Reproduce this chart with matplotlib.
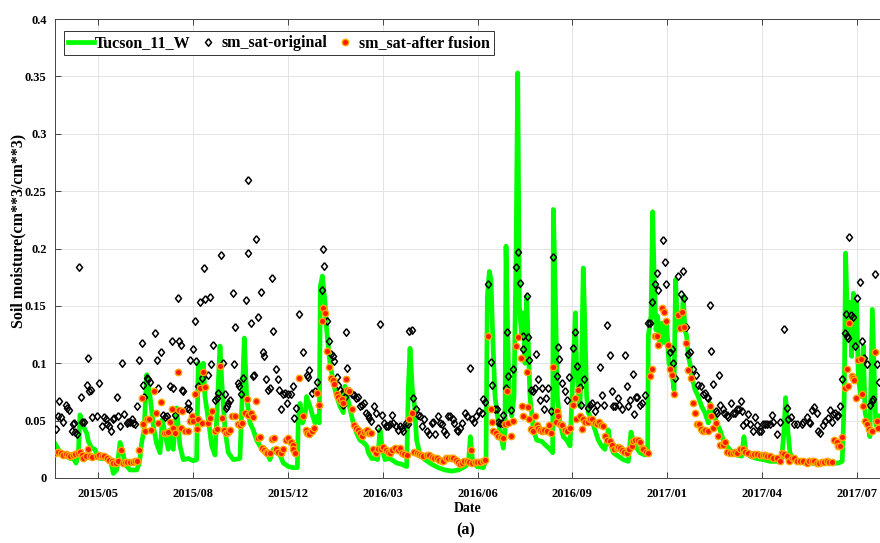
import numpy as np
import matplotlib
matplotlib.use('Agg')
import matplotlib.pyplot as plt
import matplotlib.dates as mdates
from datetime import date

# ---------------- data ----------------
START = date(2015, 4, 5)          # day 0 of the record
END_DAY = 861
tick_dates = ['2015-05-20', '2015-08-27', '2015-12-04', '2016-03-12', '2016-06-19',
              '2016-09-26', '2017-01-03', '2017-04-12', '2017-07-20']
tick_labels = ['2015/05', '2015/08', '2015/12', '2016/03', '2016/06',
               '2016/09', '2017/01', '2017/04', '2017/07']

# in-situ station (days since START, soil moisture)
insitu_day = [0, 3.5, 7, 12.2, 15.7, 19.2, 22, 24.4, 26.1, 29.6, 33.1, 34.8, 38.3, 41.8, 43.5, 47, 52.2, 57.4,
              60.9, 64.4, 67.9, 70.7, 73.1, 78.3, 85.3, 88, 90.5, 93, 95.7, 97.8, 99.2, 102.7, 106, 109.6, 112,
              114.7, 118.2, 120, 123.4, 126.9, 130.4, 133.9, 139.1, 144.3, 147.8, 149.5, 153, 154.8, 156.5, 160,
              163.5, 167, 172.2, 173.9, 177.4, 180.9, 186.1, 193, 197.6, 200, 203.5, 206.9, 210.4, 213.9, 217.4,
              220.9, 224.3, 227.8, 231.3, 234.8, 238.3, 243.5, 248.7, 252.9, 253.9, 255.7, 258.4, 260.9, 262.6,
              266.1, 268.9, 271.3, 273.7, 275.8, 276.9, 279, 281.8, 283.5, 287, 290.5, 294, 297.4, 300.9, 302.6,
              305.1, 307.9, 311.3, 314.8, 318.3, 321.8, 325.3, 327, 330.5, 334, 336.7, 339.2, 341.6, 344.4,
              347.9, 351.3, 356.6, 361.8, 367, 368.7, 370.5, 372.9, 375, 377.4, 380.9, 386.1, 393.1, 400, 407,
              414, 420.9, 427.9, 431.4, 433.5, 435.6, 440.4, 447, 449.8, 451.2, 453.3, 455, 456.8, 459.2, 462.7,
              466.2, 467.9, 469.6, 470.7, 472.4, 474.2, 476.6, 479, 481.1, 482.9, 484.6, 487, 488.8, 490.5,
              492.3, 494, 495.7, 499.2, 502.7, 507.9, 511.4, 516.6, 519.4, 520.1, 522.2, 524.3, 527, 530.5, 534,
              537.5, 541, 543.1, 544.3, 546.1, 547.8, 549.6, 551.3, 553.1, 554.8, 556.5, 560, 563.5, 567, 570.4,
              573.9, 575.7, 577.4, 579.1, 582.6, 587.8, 593.1, 598.3, 601.1, 603.5, 607, 610.5, 615.7, 618.5,
              619.2, 622, 623.7, 625.4, 627.2, 628.9, 631.3, 633.8, 635.9, 638.3, 640.7, 643.5, 646, 647.7,
              649.8, 652.2, 653.9, 655.7, 657.4, 659.2, 660.9, 662.6, 664.4, 667.9, 671.3, 674.8, 678.3, 681.8,
              683.5, 687, 690.5, 694, 697.4, 700.9, 706.1, 711.4, 716.6, 719, 721.1, 725.3, 732.2, 739.2, 746.2,
              753.1, 758.3, 760.8, 762.5, 765, 767, 770.5, 775.7, 782.7, 789.6, 796.6, 803.5, 810.5, 817.5,
              821.6, 823.7, 825.1, 827.2, 829.7, 831.4, 833.2, 834.9, 836.6, 838.4, 841.2, 843.6, 845.4, 848.1,
              850.5, 853, 854.7, 856.5, 858.5, 861]
insitu_val = [.030, .025, .020, .019, .017, .017, .013, .022, .055, .045, .039, .032, .026, .025, .020, .017, .017, .017,
              .004, .007, .031, .023, .012, .007, .007, .013, .031, .042, .090, .077, .071, .045, .030, .022, .051,
              .039, .025, .042, .025, .061, .028, .016, .017, .015, .016, .100, .077, .100, .071, .051,
              .028, .020, .115, .086, .042, .022, .016, .017, .122, .071, .048, .042, .033, .028, .025,
              .022, .016, .025, .022, .020, .013, .010, .009, .009, .051, .065, .048, .054, .071,
              .0625, .054, .048, .054, .048, .167, .176, .153, .129, .100, .083, .071, .0625, .057, .080,
              .071, .060, .048, .039, .033, .031, .028, .022, .017, .017, .016, .042, .025, .016,
              .017, .016, .013, .012, .010, .077, .113, .077, .065, .033, .020, .016, .012, .009, .007,
              .006, .007, .010, .013, .036, .016, .010, .009, .016, .158, .180, .173, .124, .071, .048,
              .033, .026, .042, .202, .129, .062, .054, .071, .188, .353, .150, .124, .144, .100,
              .158, .115, .071, .042, .033, .032, .029, .025, .022, .234, .158, .071, .048, .036, .033,
              .028, .100, .144, .100, .077, .0625, .100, .183, .129, .071, .057, .051, .042, .033, .028,
              .025, .033, .042, .031, .022, .019, .016, .0145, .040, .033, .026, .022, .020, .022,
              .124, .141, .232, .173, .129, .141, .115, .135, .118, .135, .100, .094, .077, .173,
              .129, .144, .129, .158, .129, .124, .106, .100, .089, .077, .071, .0625, .057, .048,
              .065, .057, .048, .042, .033, .028, .023, .020, .019, .036, .023, .019, .017, .016, .0145,
              .0145, .016, .042, .070, .040, .022, .016, .0145, .013, .013, .012, .013, .013, .013,
              .0145, .071, .196, .129, .153, .106, .161, .115, .153, .086, .071, .115, .057, .048,
              .036, .147, .100, .048, .042, .054]

# satellite original
orig_day = [1.1, 3.5, 4.5, 6.3, 8.7, 11.5, 12.9, 14.6, 17.4, 19.2, 20.2, 20.9, 22.6, 25.1, 27.2, 28.6, 30.3, 33.1,
            34.8, 35.9, 37.3, 38.3, 43.5, 46.3, 48.7, 51.2, 53.3, 54.7, 56.7, 58.5, 60.2, 62, 64.4, 66.1, 67.9,
            69.6, 72, 74.8, 76.6, 78.3, 80.1, 81.8, 83.5, 85.3, 88, 90.5, 91.5, 93.3, 95.7, 97.5, 99.2, 104.4,
            106.2, 107.9, 110.7, 113, 114.7, 116.5, 120, 122.4, 123.4, 125.2, 128, 129.7, 131.4, 132.1, 133.9,
            137.4, 138.4, 139.8, 140.8, 143.6, 146.1, 147.1, 148.9, 151.3, 153.7, 155.5, 156.5, 159.3, 161.7,
            162.7, 164.5, 167, 168.7, 170.4, 172.9, 175.6, 177.4, 178.1, 179.1, 180.9, 182.6, 185.4, 186.4,
            187.8, 190.6, 192.3, 194.1, 195.8, 199, 201, 201.7, 204.2, 206.3, 207.7, 209.7, 211.5, 215, 216.7,
            218.4, 220.2, 222.6, 224.3, 226.1, 227.8, 230.6, 232.3, 234.1, 235.5, 238.3, 240, 241.7, 243.5,
            245.9, 248, 249.4, 251.5, 255, 259.1, 262.6, 264.4, 265.4, 267.8, 271.3, 273.1, 275.8, 278.3, 280,
            280.7, 283.5, 285.9, 287.7, 289.8, 291.2, 294, 295.7, 297.4, 299.2, 300.2, 302.6, 303.7, 305.1,
            307.2, 309.6, 312, 314.1, 315.9, 318.3, 320, 322.5, 324.6, 326.3, 328.1, 329.4, 333.2, 335, 336.7,
            339.2, 340.9, 343.7, 345.1, 347.2, 349.6, 351.3, 353.1, 355.5, 357.6, 360, 361.8, 363.5, 366, 368,
            369.8, 372.2, 374, 376.4, 378.5, 380.9, 383.4, 385.4, 387.9, 390.3, 393.1, 394.8, 396.6, 399.4,
            401.8, 404.2, 406, 408.1, 409.8, 412.2, 415, 416.8, 419.2, 421, 422.7, 424.4, 427.9, 429.6, 433.1,
            434.9, 437.3, 439.4, 442.8, 445.3, 447, 448.8, 452.2, 454.7, 455.7, 459.2, 460.9, 462.7, 464.4,
            466.2, 467.9, 470.7, 471.4, 473.1, 475.6, 478.3, 481.1, 483.6, 485.3, 488.1, 488.8, 492.3, 494,
            495, 496.8, 499.2, 501, 502, 504.4, 506.2, 507.9, 510.4, 512.4, 514.9, 517.7, 520.1, 523.6, 525.3,
            526.4, 528.8, 532.3, 534, 536.5, 540.3, 542.7, 544.5, 547.9, 548.9, 552.3, 555.8, 558.3, 560.7,
            563.5, 565.2, 568.7, 571.1, 573.2, 575.7, 579.1, 580.9, 582.6, 584.4, 587.1, 588.9, 591.3, 594.8,
            596.5, 598.3, 600, 602.8, 604.5, 605.9, 607.7, 610.5, 612.2, 615.7, 619.2, 620.9, 623.3, 626.1,
            627.9, 629.6, 634.1, 636.5, 637.6, 641.8, 643.5, 645.3, 647, 649.8, 653.3, 655, 656.8, 658.5,
            660.9, 662.6, 665.4, 668.9, 671.3, 673.8, 675.9, 678.3, 680.1, 681.8, 683.5, 684.6, 687, 689.8,
            691.2, 693.3, 694, 696.8, 698.5, 700.9, 702.7, 705.1, 707.9, 709.6, 712.1, 714.2, 715.5, 716.6,
            718.3, 721.1, 723.5, 725.3, 728.8, 730.5, 733, 735, 736.8, 739.2, 741, 743.4, 746.2, 747.9, 749.6,
            753.1, 756.6, 760.8, 763.6, 765.3, 768.1, 771.5, 774, 779.2, 781, 784.4, 786.9, 787.9, 790.3,
            792.4, 794.9, 796.6, 798.3, 801.8, 803.6, 806.4, 808.8, 810.5, 812.3, 814, 815.7, 817.5, 819.2,
            821, 824.4, 825.5, 826.2, 827.9, 829, 830.7, 833.1, 834.9, 836.6, 840.1, 842.5, 844.6, 847.1,
            850.5, 852.3, 854, 855.8, 857.5, 860.3]
orig_val = [.043, .054, .067, .053, .049, .064, .061, .059, .041, .047, .048, .040, .038, .184, .071, .049, .049, .081,
            .105, .076, .077, .053, .054, .083, .045, .053, .051, .047, .045, .041, .051, .052, .071, .054, .045,
            .100, .056, .048, .049, .049, .051, .048, .047, .0625, .103, .118, .081, .071, .087, .086, .084, .126,
            .103, .078, .110, .055, .053, .054, .080, .119, .078, .055, .157, .119, .116, .077, .076,
            .061, .065, .060, .103, .112, .137, .102, .080, .153, .087, .183, .156, .090, .158,
            .099, .116, .068, .070, .074, .194, .100, .073, .061, .0625, .065, .068, .161, .099,
            .132, .083, .080, .073, .087, .155, .260, .196, .135, .089, .090, .208, .140, .162, .110,
            .106, .086, .077, .078, .174, .128, .095, .086, .077, .060, .073, .074, .065, .073,
            .073, .080, .052, .061, .143, .110, .090, .088, .094, .074, .076, .084, .064, .164, .200,
            .185, .137, .119, .108, .106, .102, .088, .081, .077, .074, .064, .071, .127, .096,
            .076, .073, .072, .070, .071, .0625, .064, .065, .057, .055, .052, .050, .0625, .057, .044,
            .134, .055, .048, .045, .045, .047, .055, .048, .045, .042, .045, .044, .041, .048, .047,
            .128, .129, .070, .060, .055, .054, .045, .051, .041, .038, .048, .049, .038, .054,
            .048, .047, .041, .038, .054, .054, .051, .048, .042, .041, .044, .048, .057, .054, .096,
            .051, .049, .054, .058, .057, .069, .066, .169, .101, .081, .060, .060, .049, .048,
            .048, .055, .078, .127, .089, .059, .095, .184, .197, .170, .124, .112, .159, .123,
            .103, .077, .076, .078, .108, .086, .068, .078, .060, .070, .078, .058, .193, .089, .114,
            .104, .083, .076, .068, .088, .113, .127, .098, .079, .064, .086, .061, .064, .065,
            .058, .064, .097, .072, .064, .133, .107, .076, .063, .063, .070, .064, .060, .107,
            .080, .063, .068, .091, .056, .071, .071, .064, .065, .072, .135, .135, .153, .169,
            .179, .164, .207, .188, .169, .110, .112, .100, .087, .176, .160, .180, .157, .132,
            .108, .110, .095, .090, .081, .080, .073, .074, .071, .070, .151, .111, .082, .058,
            .057, .090, .064, .060, .057, .055, .053, .065, .057, .057, .060, .060, .067, .058,
            .046, .049, .056, .047, .041, .053, .046, .041, .041, .047, .047, .047, .047, .055, .049,
            .038, .049, .130, .061, .051, .053, .047, .047, .047, .049, .053, .049, .048, .059,
            .062, .057, .041, .039, .046, .050, .052, .059, .049, .056, .057, .054, .055, .063,
            .086, .126, .143, .124, .122, .210, .142, .140, .115, .157, .171, .119, .105, .099,
            .064, .067, .069, .178, .099, .084]

# satellite after fusion
fused_day = [0, 3.5, 5.9, 8.7, 11.5, 13.9, 15.7, 18.5, 20.9, 24.4, 26.1, 27.9, 29.6, 32.4, 34.1, 36.6, 38.3, 43.5,
             46.3, 48.7, 51.2, 54, 56.7, 59.2, 60.9, 63.7, 66.1, 68.6, 70.7, 73.1, 75.5, 78.3, 81.1, 83.5, 85.3,
             88, 90.5, 91.5, 94, 95.7, 98.5, 100.2, 103.4, 105.5, 107.9, 110.7, 114, 115.4, 117.5, 120, 121.7,
             123.4, 125.2, 128, 129.4, 131.4, 132.8, 135.6, 138.4, 140.8, 142.6, 144.3, 146.1, 147.8, 148.9,
             151.3, 153.7, 154.8, 156.5, 159.3, 161.7, 164.2, 167, 168.7, 172.2, 173.9, 176.7, 178.1, 180.2,
             182.6, 185.1, 187.8, 190.6, 193, 195.5, 198.3, 200, 201.7, 204.2, 207, 209.7, 211.5, 213.9, 216.4,
             218.4, 220.2, 221.6, 224.3, 226.1, 228.5, 230.6, 233, 235.5, 238.3, 241, 243.5, 245.9, 248, 248.7,
             250.4, 255, 259.1, 261.9, 263.3, 265.4, 267.8, 270.3, 273.1, 275.8, 278.3, 280, 281.8, 283.5,
             286.3, 287.7, 289.8, 291.2, 294, 295.7, 297.4, 299.2, 300.9, 303.7, 305.1, 307.2, 309.6, 312,
             314.1, 316.6, 318.3, 320, 322.5, 324.6, 326, 328.1, 329.8, 332.2, 334.6, 337.4, 340.2, 342.6,
             345.1, 347.2, 349.6, 352.1, 354.8, 357.6, 360, 361.8, 364.6, 367, 369.4, 372.9, 375, 377.4, 379.9,
             382, 384.4, 387.9, 390.3, 393.1, 395.9, 398.3, 400.8, 403.5, 405.3, 407.7, 410.5, 413.3, 415.7,
             418.2, 420.3, 422.7, 425.1, 427.2, 429.6, 432.1, 433.8, 435.6, 438.3, 440.1, 443.5, 446.3, 448.8,
             452.2, 454.7, 455.7, 457.5, 460.2, 462.7, 465.1, 467.9, 469.6, 471.4, 473.1, 475.6, 477.6, 481.1,
             483.6, 486, 487, 488.8, 492.3, 494, 495, 496.8, 499.2, 501, 502.7, 504.4, 506.2, 507.9, 510.4,
             513.1, 515.9, 517.7, 520.1, 522.9, 524.3, 525.3, 527.1, 528.8, 532.3, 534, 537.5, 541, 542.7,
             543.8, 546.2, 548, 549.6, 551.3, 553.1, 555.8, 558.3, 560.7, 563.5, 565.2, 567.7, 569.8, 572.2,
             573.9, 575.7, 579.1, 580.9, 583.7, 586.1, 587.8, 589.6, 591.3, 594.1, 596.5, 599.3, 601.8, 603.5,
             605.2, 608, 610.5, 612.2, 614, 616.4, 618.5, 620.9, 623.3, 626.1, 627.9, 629.6, 633.8, 635.9,
             637.3, 639.4, 641.8, 644.2, 646.3, 649.8, 652.2, 654.7, 656.8, 658.5, 660.9, 663.3, 665.4, 667.9,
             670.3, 672.4, 673.8, 675.9, 678.3, 681.8, 683.5, 684.2, 687, 689.8, 692.2, 694, 696.8, 699.2,
             701.6, 704.4, 707.2, 709.6, 712.1, 714.9, 717.6, 720.1, 723.5, 727, 729.5, 732.2, 735.7, 738.5,
             740.9, 743.4, 746.2, 748.9, 753.1, 756.6, 758.3, 760.8, 763.6, 766.3, 768.8, 771.5, 774, 777.5,
             781, 784.4, 786.9, 789.6, 792.4, 794.9, 797.3, 800.1, 802.9, 805.3, 808.1, 810.5, 813.3, 815.7,
             817.5, 819.2, 821.6, 824.4, 826.2, 827.9, 829, 831.4, 833.1, 834.2, 835.6, 838.4, 841.2, 842.5,
             843.6, 845.4, 847.1, 849.5, 851.6, 853, 855.8, 857.5, 859.3]
fused_val = [.022, .023, .022, .020, .021, .020, .019, .020, .021, .022, .023, .020, .017, .019, .025, .019, .018, .019,
             .020, .019, .019, .017, .016, .0145, .013, .013, .0145, .024, .013, .014, .014, .014, .014, .0145, .0145,
             .024, .070, .047, .041, .051, .051, .042, .076, .057, .048, .066, .039, .039, .040, .049, .060,
             .044, .039, .092, .059, .044, .058, .041, .041, .050, .054, .050, .073, .043, .051,
             .078, .048, .092, .079, .048, .052, .058, .041, .043, .098, .052, .042, .039, .040,
             .042, .054, .054, .047, .046, .048, .057, .069, .055, .057, .053, .067, .035, .036, .026,
             .024, .023, .022, .022, .034, .035, .025, .023, .022, .025, .033, .035, .031, .029, .025,
             .022, .087, .054, .042, .039, .038, .041, .044, .074, .064, .137, .148, .144, .111,
             .097, .087, .085, .082, .073, .071, .068, .069, .065, .086, .077, .076, .060, .046,
             .044, .042, .039, .037, .040, .041, .042, .039, .039, .025, .022, .025, .025, .027,
             .024, .023, .022, .024, .026, .024, .026, .022, .021, .020, .051, .057, .023, .022, .021,
             .020, .019, .020, .020, .018, .017, .017, .016, .0145, .015, .017, .017, .017, .017,
             .016, .014, .012, .013, .0145, .015, .014, .024, .013, .014, .014, .014, .0145, .016,
             .124, .060, .049, .041, .039, .037, .036, .035, .047, .076, .048, .037, .050, .115,
             .123, .105, .063, .054, .092, .062, .051, .043, .041, .054, .046, .044, .042, .041, .042,
             .041, .046, .039, .097, .049, .058, .054, .047, .046, .042, .041, .044, .064, .070,
             .051, .077, .054, .043, .051, .049, .049, .051, .051, .048, .047, .049, .046, .045,
             .037, .033, .032, .029, .025, .026, .027, .026, .024, .023, .022, .025, .028, .032,
             .033, .033, .031, .026, .025, .023, .022, .089, .095, .124, .124, .116, .148, .145,
             .137, .116, .095, .090, .073, .142, .131, .145, .132, .118, .094, .087, .065, .057,
             .047, .047, .043, .041, .042, .041, .063, .054, .044, .048, .037, .029, .029, .031,
             .023, .022, .022, .023, .022, .025, .025, .023, .022, .020, .021, .021, .020, .020,
             .020, .019, .019, .017, .017, .0145, .022, .021, .019, .0145, .017, .017, .015, .0145,
             .0145, .013, .0145, .0145, .015, .013, .013, .014, .014, .0145, .014, .014, .033, .031,
             .028, .028, .036, .078, .095, .080, .135, .089, .087, .085, .070, .103, .104, .073,
             .0625, .050, .047, .043, .041, .041, .110, .050, .044]

# ---------------- figure ----------------
plt.rcParams['font.family'] = ['Liberation Serif', 'DejaVu Serif']
plt.rcParams['font.weight'] = 'bold'

fig = plt.figure(figsize=(8.8, 5.43), dpi=100)
ax = fig.add_axes([55 / 880, 65 / 543, 825 / 880, 459 / 543])

base = mdates.date2num(START)
xi = base + np.asarray(insitu_day)
xo = base + np.asarray(orig_day)
xf = base + np.asarray(fused_day)

diamond = [(0, 1), (0.8, 0), (0, -1), (-0.8, 0), (0, 1)]

ax.plot(xi, insitu_val, color='#00ff00', lw=3.4, solid_joinstyle='round',
        label='Tucson_11_W', zorder=2)
ax.plot(xo, orig_val, ls='none', marker=diamond, ms=5.4, mfc='none', mec='black', mew=1.1,
        label='sm_sat-original', zorder=3)
ax.plot(xf, fused_val, ls='none', marker='o', ms=4.6, mfc='#ff1a00', mec='#ffa500', mew=1.0,
        label='sm_sat-after fusion', zorder=4)

ax.set_xlim(base, base + END_DAY)
ax.set_ylim(0, 0.4)
tick_x = [mdates.date2num(np.datetime64(d).astype(object)) for d in tick_dates]
ax.set_xticks(tick_x)
ax.set_xticklabels(tick_labels)
yt = np.arange(0, 0.401, 0.05)
ax.set_yticks(yt)
ax.set_yticklabels([f'{v:g}' for v in np.round(yt, 2)])

ax.grid(True, color='#e4e4e4', lw=0.7)
ax.set_axisbelow(True)
for s in ['top', 'left', 'bottom']:
    ax.spines[s].set_color('#444444')
    ax.spines[s].set_linewidth(0.7)
ax.spines['right'].set_visible(False)
ax.tick_params(axis='both', direction='in', length=4, width=0.7, color='#444444',
               labelsize=9, top=True, right=False)
ax.tick_params(axis='x', pad=7)
ax.tick_params(axis='y', pad=6)

leg = ax.legend(loc='upper left', bbox_to_anchor=(0.011, 0.973), ncol=3, frameon=True,
                fancybox=False, edgecolor='#333333', framealpha=1, borderpad=0.25,
                handlelength=1.6, handletextpad=0.1, columnspacing=0.25, borderaxespad=0,
                prop={'size': 11.5, 'weight': 'bold'})
leg.get_frame().set_linewidth(0.7)

fig.text(468 / 880, 1 - 508 / 543, 'Date', ha='center', va='center', fontsize=10, fontweight='bold')
fig.text(18 / 880, 1 - 231 / 543, 'Soil moisture(cm**3/cm**3)', rotation=90, ha='center',
         va='center', fontsize=11.5, fontweight='bold')
fig.text(466 / 880, 1 - 530 / 543, '(a)', ha='center', va='center', fontsize=11.5, fontweight='bold')

fig.savefig('out.png', dpi=100)
